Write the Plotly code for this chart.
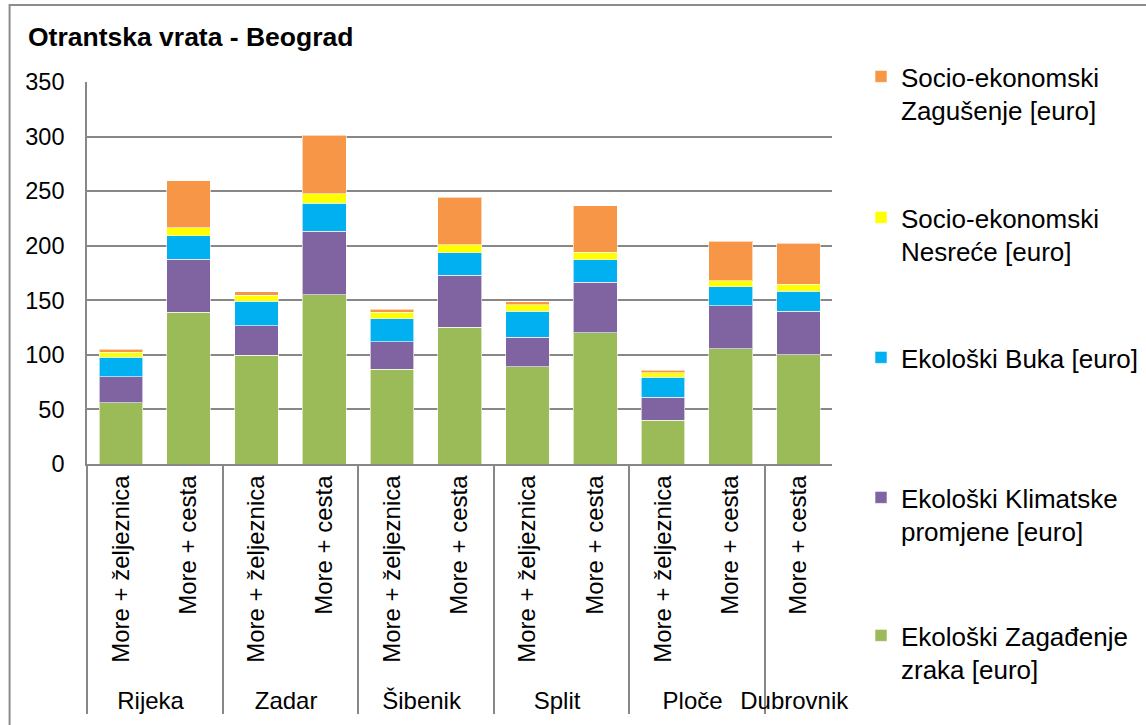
import plotly.graph_objects as go

groups = ["Rijeka", "Rijeka", "Zadar", "Zadar", "Šibenik", "Šibenik",
          "Split", "Split", "Ploče", "Ploče", "Dubrovnik"]
modes = ["More + željeznica", "More + cesta"] * 5 + ["More + cesta"]

zagadjenje = [56, 139, 99.6, 155.2, 86.7, 125.5, 88.9, 120.3, 40, 105.7, 99.9]
klimatske = [24, 48.5, 27.1, 58, 25.3, 47.4, 27.1, 46.2, 21.1, 39.3, 40]
buka = [18, 21.7, 22.3, 25.6, 21, 20.7, 23.9, 20.7, 18.3, 17.2, 18.3]
nesrece = [4.5, 7.3, 5.8, 8.8, 6, 7.4, 6.1, 7, 4.3, 5.8, 6.4]
zagusenje = [2.5, 43, 2.8, 53.4, 2.7, 43.3, 2.7, 42.5, 2.4, 36, 37.6]

series = [
    ("Ekološki Zagađenje<br>zraka [euro]", zagadjenje, "#9BBB59"),
    ("Ekološki Klimatske<br>promjene [euro]", klimatske, "#8064A2"),
    ("Ekološki Buka [euro]", buka, "#00B0F0"),
    ("Socio-ekonomski<br>Nesreće [euro]", nesrece, "#FFFF00"),
    ("Socio-ekonomski<br>Zagušenje [euro]", zagusenje, "#F79646"),
]

FONT = "Liberation Sans, Arial, sans-serif"
W, H = 1146, 725

# top edge (px) of each legend box, bottom series first
legend_tops = [612, 474, 334, 194, 53]
legend_ids = ["legend", "legend2", "legend3", "legend4", "legend5"]

fig = go.Figure()
for i, (name, vals, col) in enumerate(series):
    fig.add_trace(go.Bar(
        x=[groups, modes], y=vals, name=name, showlegend=True,
        marker=dict(color=col, line=dict(color="rgba(255,255,255,0.6)", width=1)),
        legend=legend_ids[i],
    ))

legend_layouts = {}
for lid, top in zip(legend_ids, legend_tops):
    legend_layouts[lid] = dict(
        xref="container", yref="container",
        x=861 / W, xanchor="left", y=1 - top / H, yanchor="top",
        valign="top", itemwidth=30,
        font=dict(size=26, family=FONT, color="black"),
        bgcolor="rgba(0,0,0,0)",
    )

fig.update_layout(
    barmode="stack",
    bargap=0.355,
    width=W, height=H,
    showlegend=True,
    margin=dict(l=87, r=308, t=82, b=261),
    paper_bgcolor="white", plot_bgcolor="white",
    font=dict(family=FONT, color="black"),
    title=dict(text="<b>Otrantska vrata - Beograd</b>", x=28 / W, xref="container",
               xanchor="left", y=1 - 37 / H, yanchor="middle",
               font=dict(size=26.5, family=FONT, color="black")),
    shapes=[dict(type="rect", xref="paper", yref="paper",
                 x0=(9 - 87) / 751, x1=2, y0=-1, y1=(464 - 5) / 382,
                 line=dict(color="#8C8C8C", width=2), layer="below")],
    **legend_layouts,
)

fig.update_yaxes(
    range=[0, 350], dtick=50, showgrid=True, gridcolor="#878787", gridwidth=1.6,
    showline=True, linecolor="#878787", linewidth=1.6,
    tickfont=dict(size=23.5, family=FONT, color="black"),
    ticks="", ticklabelstandoff=16, zeroline=False,
)
fig.update_xaxes(
    type="multicategory", showline=True, linecolor="#878787", linewidth=1.6,
    tickangle=-90, tickfont=dict(size=24, family=FONT, color="black"),
    showdividers=True, dividercolor="#878787", dividerwidth=1.6,
    ticks="", showgrid=False,
)

fig.write_html(
    "out.html",
    config={"displayModeBar": False},
    post_script="document.body.style.margin='0';document.body.style.overflow='hidden';",
)
